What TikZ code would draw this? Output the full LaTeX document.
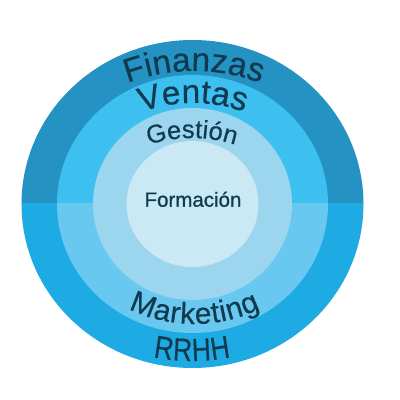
\documentclass[tikz,border=0pt]{standalone}
\usepackage{fontspec}
\setmainfont{Liberation Sans}[FakeBold=0.3]
\newfontfamily\rrfont[FakeStretch=0.82,FakeBold=0.3]{Liberation Sans}
\newfontfamily\medfont[FakeBold=0.7]{Liberation Sans}
\usetikzlibrary{decorations.text}
\definecolor{topA}{HTML}{2493C4}
\definecolor{topB}{HTML}{3DBFEF}
\definecolor{botA}{HTML}{1EAAE2}
\definecolor{botB}{HTML}{68C8F0}
\definecolor{ringC}{HTML}{9BD5EE}
\definecolor{core}{HTML}{CBE8F5}
\definecolor{txt}{HTML}{0F3A4F}
\begin{document}
\begin{tikzpicture}[x=1pt,y=1pt,
  curvtext/.style={decorate, decoration={text along path, text align={fit to path}, text color=txt, text={#1}}}]
\useasboundingbox (0,0) rectangle (400,400);
\coordinate (c) at (192.5,196);
\begin{scope}
  \clip (0,196) rectangle (400,400);
  \fill[topA] (c) ellipse [x radius=171, y radius=164];
  \fill[topB] (c) ellipse [x radius=135.5, y radius=129];
  \fill[ringC] (c) ellipse [x radius=99.5, y radius=96];
  \fill[core] (c) ellipse [x radius=66, y radius=63];
\end{scope}
\begin{scope}
  \clip (0,0) rectangle (400,196);
  \fill[botA] (c) ellipse [x radius=171, y radius=164];
  \fill[botB] (c) ellipse [x radius=135.5, y radius=129];
  \fill[ringC] (c) ellipse [x radius=99.5, y radius=96];
  \fill[core] (c) ellipse [x radius=66, y radius=63];
\end{scope}
\path[curvtext={|\fontsize{33.5}{33.5}\selectfont|Finanzas}] (194,139) ++(110.5:190) arc[start angle=110.5, end angle=69.5, radius=190];
\path[curvtext={|\fontsize{33.5}{33.5}\selectfont|Ventas}] (193,147) ++(110:150) arc[start angle=110, end angle=70, radius=150];
\path[curvtext={|\fontsize{25.5}{25.5}\selectfont|Gestión}] (192,122) ++(108:140) arc[start angle=108, end angle=72, radius=140];
\path[curvtext={|\fontsize{30}{30}\selectfont|Marketing}] (194.5,226) ++(243.9:150) arc[start angle=243.9, end angle=296.1, radius=150];
\path[curvtext={|\rrfont\fontsize{32}{32}\selectfont|RRHH}] (192,239) ++(258.8:200) arc[start angle=258.8, end angle=281.2, radius=200];
\node[text=txt, font=\medfont\fontsize{20.5}{20.5}\selectfont, anchor=base, inner sep=0pt] (formacion) at (193,193.3) {Formación};
\end{tikzpicture}
\end{document}
